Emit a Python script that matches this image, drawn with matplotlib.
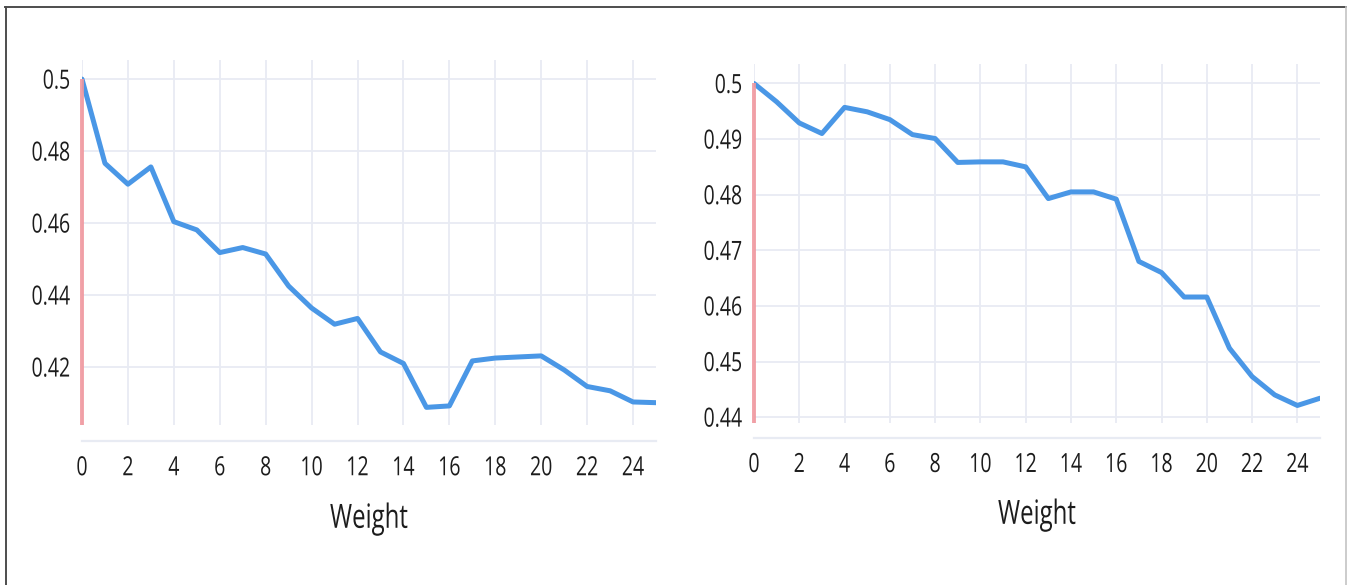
import matplotlib
matplotlib.use("Agg")
import matplotlib.pyplot as plt
from matplotlib.lines import Line2D
from matplotlib.patheffects import AbstractPathEffect
from matplotlib.transforms import Affine2D

plt.rcParams['font.family'] = ['Open Sans', 'DejaVu Sans']

weights = list(range(26))
left_vals = [0.5, 0.4766, 0.4708, 0.4756, 0.4604, 0.4581, 0.4518, 0.4532, 0.4514,
             0.4425, 0.4364, 0.4319, 0.4335, 0.4242, 0.4210, 0.4088, 0.4092, 0.4217,
             0.4225, 0.4228, 0.4231, 0.4192, 0.4146, 0.4134, 0.4103, 0.4101]
right_vals = [0.5, 0.4967, 0.4929, 0.4910, 0.4957, 0.4949, 0.4935, 0.4908, 0.4901,
              0.4858, 0.4859, 0.4859, 0.4850, 0.4793, 0.4805, 0.4805, 0.4792, 0.4680,
              0.4660, 0.4616, 0.4616, 0.4524, 0.4473, 0.4440, 0.4421, 0.4434]
x_ticks = list(range(0, 25, 2))
left_yticks = [0.42, 0.44, 0.46, 0.48, 0.5]
right_yticks = [0.44, 0.45, 0.46, 0.47, 0.48, 0.49, 0.5]

BLUE = '#4a97e6'
RED = '#f0979e'
GRID = '#e8ebf3'
TEXT = '#1c1c1c'


class Squeeze(AbstractPathEffect):
    """Narrow a text horizontally about its anchor point."""
    def __init__(self, text, sx=0.72):
        super().__init__()
        self.text = text
        self.sx = sx

    def draw_path(self, renderer, gc, tpath, affine, rgbFace=None):
        x0, _ = self.text.get_transform().transform(self.text.get_unitless_position())
        squeeze = Affine2D().translate(-x0, 0).scale(self.sx, 1).translate(x0, 0)
        renderer.draw_path(gc, tpath, affine + squeeze, rgbFace)


def style_axes(ax, vals, yticks, ylim, spine_out, labelpad):
    ax.plot(weights, vals, color=BLUE, lw=3.6, solid_joinstyle='round',
            solid_capstyle='round', zorder=3, clip_on=True)
    # marker segment from the bottom of the range up to the first value
    ax.plot([0, 0], [ylim[0], vals[0]], color=RED, lw=2.8, alpha=0.9,
            zorder=4, clip_on=False, solid_capstyle='butt')
    ax.set_xlim(0, 25)
    ax.set_ylim(*ylim)
    ax.set_xticks(x_ticks)
    ax.set_yticks(yticks)
    ax.set_yticklabels([f'{v:g}' for v in yticks])
    ax.grid(True, color=GRID, lw=1.3, zorder=0)
    ax.set_axisbelow(True)
    for side in ('top', 'right', 'left'):
        ax.spines[side].set_visible(False)
    ax.spines['bottom'].set_position(('outward', spine_out))
    ax.spines['bottom'].set_color(GRID)
    ax.spines['bottom'].set_linewidth(1.6)
    ax.tick_params(axis='both', length=0, labelsize=19, labelcolor=TEXT)
    ax.tick_params(axis='x', pad=11)
    ax.tick_params(axis='y', pad=8.5)
    ax.set_xlabel('Weight', fontsize=24, color=TEXT, labelpad=labelpad)
    for t in ax.get_xticklabels() + ax.get_yticklabels():
        t.set_path_effects([Squeeze(t, 0.74)])
    ax.xaxis.label.set_path_effects([Squeeze(ax.xaxis.label, 0.72)])


fig = plt.figure(figsize=(13.48, 5.85), dpi=100)
W, H = 1348, 585

ax1 = fig.add_axes([82 / W, 1 - 425 / H, (656 - 82) / W, (425 - 60) / H])
style_axes(ax1, left_vals, left_yticks, (0.4039, 0.5053), 11.5, 15.5)

ax2 = fig.add_axes([754 / W, 1 - 422.7 / H, (1320 - 754) / W, (422.7 - 64) / H])
style_axes(ax2, right_vals, right_yticks, (0.4390, 0.5035), 10.8, 15)

# outer frame
fig.add_artist(Line2D([5.5 / W, 5.5 / W], [1 - 7 / H, 0], transform=fig.transFigure,
                      color='#4d4d4d', lw=1.4))
fig.add_artist(Line2D([5 / W, 1346 / W], [1 - 7 / H, 1 - 7 / H], transform=fig.transFigure,
                      color='#4d4d4d', lw=1.4))
fig.add_artist(Line2D([1346 / W, 1346 / W], [1 - 7 / H, 0], transform=fig.transFigure,
                      color='#c4c4c4', lw=1.2))

fig.savefig('out.png', dpi=100, facecolor='white')
